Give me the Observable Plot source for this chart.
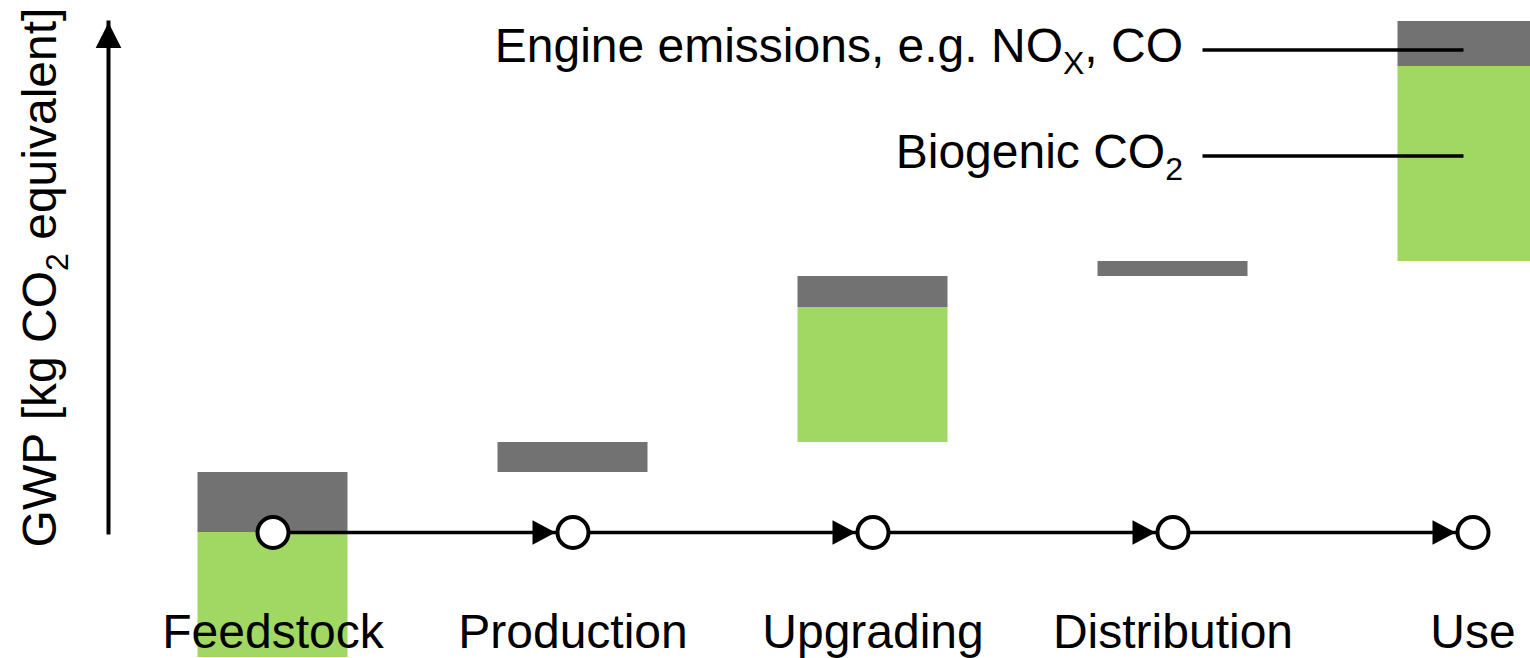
<!DOCTYPE html>
<html>
<head>
<meta charset="utf-8">
<script src="https://cdn.jsdelivr.net/npm/d3@7"></script>
<script src="https://cdn.jsdelivr.net/npm/@observablehq/plot@0.6"></script>
<style>
  html, body { margin: 0; padding: 0; background: #fff; overflow: hidden; }
  #chart svg { display: block; }
</style>
</head>
<body>
<div id="chart"></div>
<script>
// ---- data ----
const stages = ["Feedstock", "Production", "Upgrading", "Distribution", "Use"];
const biogenicCO2 = [-25, 0, 27, 0, 39];
const engineEmissions = [12, 6, 6.2, 3, 9];
const seriesNames = ["Engine emissions, e.g. NOX, CO", "Biogenic CO2"];
const annotationValues = [96.5, 75.3]; // where each leader line meets the Use bar
const yLabel = "GWP [kg CO2 equivalent]";

// ---- styles ----
const GREEN = "#a1d763";
const GRAY = "#727272";
const FONT = "'Liberation Sans', Arial, Helvetica, sans-serif";
const BAR_W = 0.5;          // bar width in stage units
const FS = 48;
const SUB_SIZE = 32, SUB_SHIFT = 12;

// waterfall segments
const segments = [];
let running = 0;
stages.forEach((s, i) => {
  let base = running;
  const b = biogenicCO2[i], e = engineEmissions[i];
  if (b !== 0) {
    segments.push({i, series: seriesNames[1], y1: base, y2: base + b});
    if (b > 0) base += b;
  }
  segments.push({i, series: seriesNames[0], y1: base, y2: base + e});
  running = base + e;
});

const last = stages.length - 1;
const head = (L, W) => ({
  draw(ctx) { ctx.moveTo(0, 0); ctx.lineTo(W, L); ctx.lineTo(-W, L); ctx.closePath(); }
});

const chart = Plot.plot({
  width: 1530,
  height: 658,
  marginLeft: 108,
  marginRight: 0,
  marginTop: 22,
  marginBottom: 126,
  style: {fontFamily: FONT, background: "white", color: "black"},
  x: {type: "linear", domain: [0, last], range: [272.5, 1472.5], axis: null},
  y: {domain: [0, 100], range: [532, 32], axis: null},
  color: {domain: seriesNames, range: [GRAY, GREEN]},
  marks: [
    Plot.rect(segments, {
      x1: d => d.i - BAR_W / 2, x2: d => d.i + BAR_W / 2,
      y1: "y1", y2: "y2", fill: "series"
    }),
    // y axis arrow
    Plot.frame({anchor: "left", stroke: "black", strokeWidth: 4}),
    Plot.dot([0], {frameAnchor: "top-left", symbol: head(25.6, 12.8), fill: "black", stroke: "none", r: 10}),
    Plot.text([yLabel], {
      text: d => d, frameAnchor: "left", rotate: -90, dx: -53,
      lineAnchor: "bottom", textAnchor: "middle", fontSize: FS, fill: "black"
    }),
    // flow line
    Plot.line(stages, {x: (d, i) => i, y: () => 0, stroke: "black", strokeWidth: 3.5}),
    Plot.dot(stages.slice(1), {
      x: (d, i) => i + 1, y: () => 0, dx: -17.5, rotate: 90,
      symbol: head(23, 12.2), fill: "black", stroke: "none", r: 10
    }),
    Plot.dot(stages, {x: (d, i) => i, y: () => 0, r: 15.5, fill: "white", stroke: "black", strokeWidth: 4}),
    // stage labels
    Plot.text(stages, {
      text: d => d, x: (d, i) => i, frameAnchor: "bottom", dy: 115,
      lineAnchor: "bottom", textAnchor: "middle", fontSize: FS, fill: "black"
    }),
    // leader lines and labels
    Plot.ruleY(annotationValues, {x1: () => last - 0.9, x2: () => last - 0.03, stroke: "black", strokeWidth: 3.5}),
    Plot.text(seriesNames, {
      text: d => d, x: () => last - 0.9, y: (d, i) => annotationValues[i],
      dx: -20, dy: 12, textAnchor: "end", lineAnchor: "bottom", fontSize: FS, fill: "black"
    })
  ]
});

// subscripts: the "2" of CO2 and the "X" of NOX
d3.select(chart).selectAll("text").each(function () {
  const t = this.textContent;
  const re = /(?<=CO)2|(?<=NO)X/g;
  if (!re.test(t)) return;
  re.lastIndex = 0;
  const parts = [];
  let lastIdx = 0, m;
  while ((m = re.exec(t))) {
    parts.push([t.slice(lastIdx, m.index), false]);
    parts.push([m[0], true]);
    lastIdx = m.index + m[0].length;
  }
  parts.push([t.slice(lastIdx), false]);
  const sel = d3.select(this);
  sel.text(null);
  let shifted = false;
  for (const [s, sub] of parts) {
    if (!s) continue;
    const ts = sel.append("tspan").text(s);
    if (sub) {
      ts.attr("font-size", SUB_SIZE);
      if (!shifted) { ts.attr("dy", SUB_SHIFT); shifted = true; }
    } else if (shifted) {
      ts.attr("dy", -SUB_SHIFT); shifted = false;
    }
  }
});

document.getElementById("chart").appendChild(chart);
</script>
</body>
</html>
